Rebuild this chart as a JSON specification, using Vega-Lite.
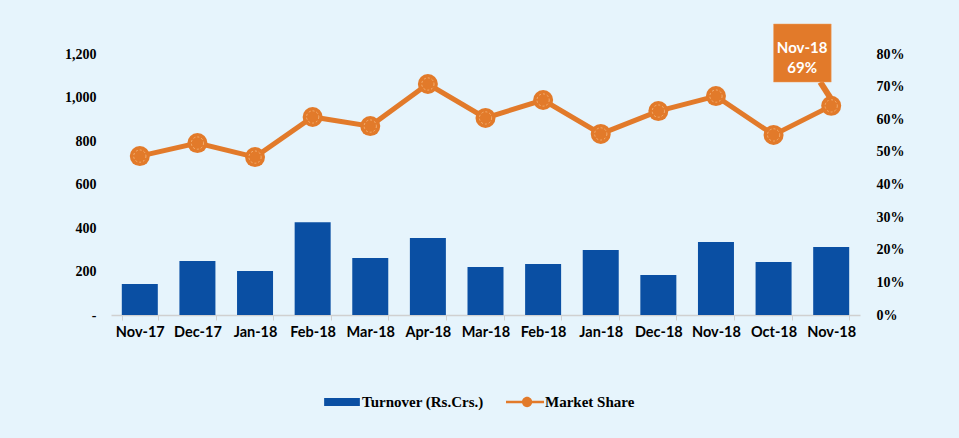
{
  "$schema": "https://vega.github.io/schema/vega-lite/v6.json",
  "autosize": "none",
  "width": 749,
  "height": 261,
  "padding": {"left": 111, "top": 54, "right": 99, "bottom": 123},
  "background": "#E6F4FC",
  "config": {"view": {"stroke": null}},
  "datasets": {
    "main": [
      {"k": "Nov-17|1", "turnover": 142, "share": 0.487},
      {"k": "Dec-17|1", "turnover": 248, "share": 0.527},
      {"k": "Jan-18|1", "turnover": 202, "share": 0.484},
      {"k": "Feb-18|1", "turnover": 426, "share": 0.607},
      {"k": "Mar-18|1", "turnover": 262, "share": 0.579},
      {"k": "Apr-18|1", "turnover": 354, "share": 0.708},
      {"k": "Mar-18|2", "turnover": 221, "share": 0.604},
      {"k": "Feb-18|2", "turnover": 234, "share": 0.659},
      {"k": "Jan-18|2", "turnover": 299, "share": 0.555},
      {"k": "Dec-18|1", "turnover": 184, "share": 0.625},
      {"k": "Nov-18|1", "turnover": 336, "share": 0.671},
      {"k": "Oct-18|1", "turnover": 244, "share": 0.552},
      {"k": "Nov-18|2", "turnover": 313, "share": 0.641}
    ],
    "box": [{"k": "Oct-18|1", "k1": "Nov-18|2", "share": 0.892, "share2": 0.714}],
    "pointer": [{"k": "Nov-18|2", "share": 0.714, "share2": 0.662}],
    "label": [{"k": "Nov-18|2", "share": 0.818, "line1": "Nov-18", "line2": "69%"}]
  },
  "layer": [
    {
      "data": {"name": "main"},
      "mark": {"type": "bar", "width": 36},
      "encoding": {
        "x": {
          "field": "k", "type": "nominal", "sort": null,
          "scale": {
            "domain": ["Nov-17|1", "Dec-17|1", "Jan-18|1", "Feb-18|1", "Mar-18|1", "Apr-18|1", "Mar-18|2", "Feb-18|2", "Jan-18|2", "Dec-18|1", "Nov-18|1", "Oct-18|1", "Nov-18|2"],
            "paddingInner": 0.37, "paddingOuter": 0.185
          },
          "axis": {
            "title": null, "labelAngle": 0,
            "labelExpr": "split(datum.label, '|')[0]",
            "labelFont": "Lato", "labelFontWeight": "bold", "labelFontSize": 14.5, "labelColor": "#000000",
            "labelPadding": 5,
            "domainColor": "#D0D0D0", "domainWidth": 1.5,
            "tickColor": "#D0D0D0", "tickBand": "extent", "tickSize": 5, "tickWidth": 1
          }
        },
        "y": {
          "field": "turnover", "type": "quantitative",
          "scale": {"domain": [0, 1200], "nice": false},
          "axis": {
            "title": null, "orient": "left", "grid": false, "domain": false, "ticks": false,
            "values": [0, 200, 400, 600, 800, 1000, 1200], "labelOverlap": false,
            "labelExpr": "datum.value == 0 ? '-' : format(datum.value, ',')",
            "labelFont": "Liberation Serif", "labelFontWeight": "bold", "labelFontSize": 14, "labelColor": "#000000",
            "labelPadding": 15
          }
        },
        "color": {
          "datum": "Turnover (Rs.Crs.)", "type": "nominal",
          "scale": {"domain": ["Turnover (Rs.Crs.)", "Market Share"], "range": ["#0A4FA3", "#E27A2A"]},
          "legend": {
            "title": null, "orient": "none", "direction": "horizontal", "legendX": 212, "legendY": 329,
            "labelFont": "Liberation Serif", "labelFontWeight": "bold", "labelFontSize": 15, "labelColor": "#000000",
            "labelOffset": 1, "columnPadding": 22, "symbolSize": 1444,
            "encode": {
              "symbols": {
                "update": {
                  "shape": {"signal": "datum.value === 'Market Share' ? 'M-1,-0.07H1V0.07H-1Z M0.38,0A0.27,0.27 0 1,1 -0.16,0A0.27,0.27 0 1,1 0.38,0Z' : 'M-0.94,-0.21H0.94V0.21H-0.94Z'"},
                  "fill": {"signal": "datum.value === 'Market Share' ? '#E27A2A' : '#0A4FA3'"},
                  "fillOpacity": {"value": 1},
                  "opacity": {"value": 1},
                  "strokeWidth": {"value": 0},
                  "size": {"value": 1444}
                }
              }
            }
          }
        }
      }
    },
    {
      "encoding": {
        "x": {"field": "k", "type": "nominal", "sort": null},
        "y": {
          "field": "share", "type": "quantitative",
          "scale": {"domain": [0, 0.8], "nice": false},
          "axis": {
            "title": null, "orient": "right", "grid": false, "domain": false, "ticks": false,
            "values": [0, 0.1, 0.2, 0.3, 0.4, 0.5, 0.6, 0.7, 0.8], "format": ".0%", "labelOverlap": false,
            "labelFont": "Liberation Serif", "labelFontWeight": "bold", "labelFontSize": 14, "labelColor": "#000000",
            "labelPadding": 16
          }
        }
      },
      "layer": [
        {
          "data": {"name": "main"},
          "mark": {"type": "line", "strokeWidth": 5, "color": "#E27A2A"},
          "encoding": {
            "color": {"datum": "Market Share", "type": "nominal"}
          }
        },
        {
          "data": {"name": "main"},
          "mark": {"type": "point", "filled": true, "size": 400, "color": "#E27A2A", "opacity": 1}
        },
        {
          "data": {"name": "main"},
          "mark": {"type": "point", "filled": false, "size": 150, "stroke": "#F3AE70", "strokeWidth": 1, "strokeDash": [2, 2], "opacity": 1}
        },
        {
          "data": {"name": "pointer"},
          "mark": {"type": "rule", "strokeWidth": 6, "color": "#E27A2A"},
          "encoding": {
            "x": {"field": "k", "type": "nominal", "bandPosition": 0.2},
            "x2": {"field": "k", "bandPosition": 0.5},
            "y2": {"field": "share2"}
          }
        },
        {
          "data": {"name": "box"},
          "mark": {"type": "rect", "color": "#E27A2A", "stroke": "#F0A060", "strokeWidth": 0.5},
          "encoding": {
            "x": {"field": "k", "type": "nominal", "bandPosition": 0.5},
            "x2": {"field": "k1", "bandPosition": 0.5},
            "y2": {"field": "share2"}
          }
        },
        {
          "data": {"name": "label"},
          "mark": {"type": "text", "color": "#FFFFFF", "font": "Lato", "fontWeight": "bold", "fontSize": 15, "lineHeight": 20, "baseline": "middle", "align": "center"},
          "encoding": {
            "x": {"field": "k", "type": "nominal", "bandPosition": -0.3},
            "text": {"value": ["Nov-18", "69%"]}
          }
        }
      ]
    }
  ],
  "resolve": {"scale": {"y": "independent"}}
}
